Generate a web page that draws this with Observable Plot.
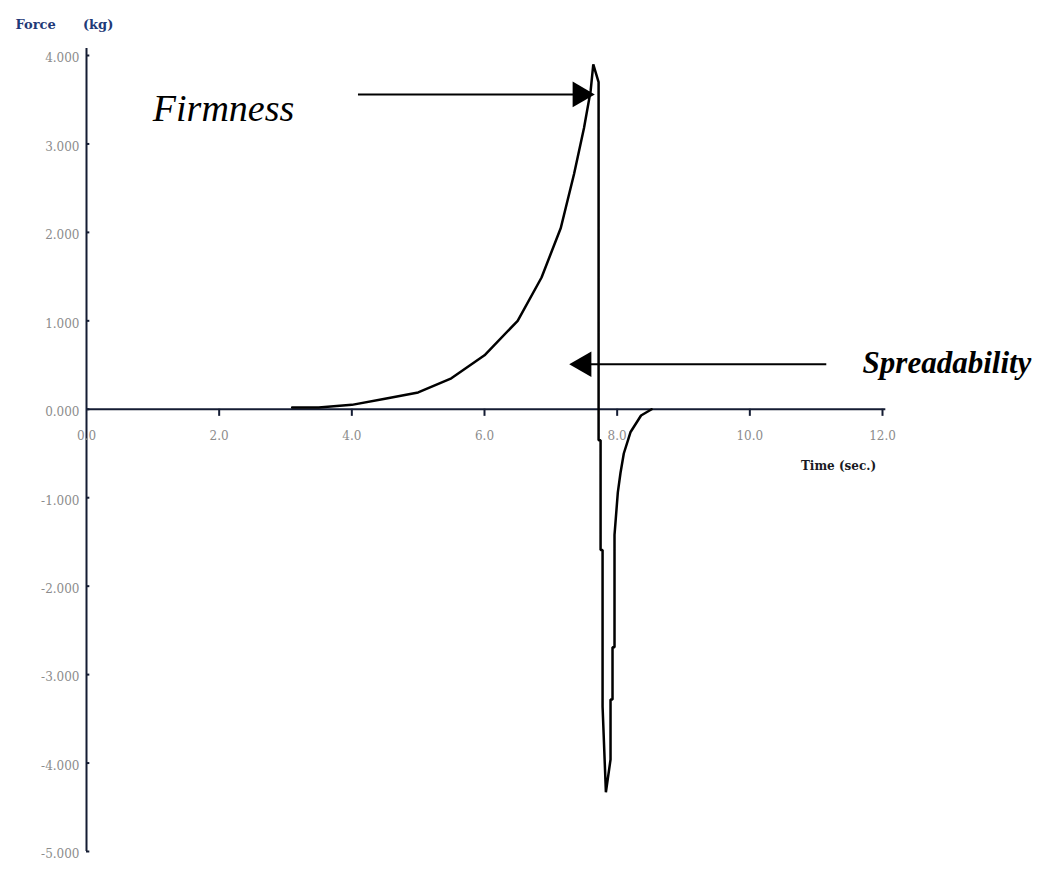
<!DOCTYPE html>
<html>
<head>
<meta charset="utf-8">
<script src="https://cdn.jsdelivr.net/npm/d3@7"></script>
<script src="https://cdn.jsdelivr.net/npm/@observablehq/plot@0.6"></script>
<style>
  html, body { margin: 0; padding: 0; background: #fff; }
  #chart svg { display: block; }
</style>
</head>
<body>
<div id="chart"></div>
<script>
// Force–time curve (texture analyser)
const time  = [3.1, 3.5, 4.0, 4.5, 5.0, 5.5, 6.0, 6.5, 6.86, 7.15, 7.35, 7.5, 7.6, 7.64, 7.72, 7.72, 7.75, 7.75, 7.78, 7.78, 7.83, 7.90, 7.90, 7.93, 7.93, 7.96, 7.96, 8.01, 8.05, 8.10, 8.20, 8.36, 8.52];
const force = [0.02, 0.02, 0.05, 0.12, 0.19, 0.35, 0.61, 1.0, 1.49, 2.05, 2.66, 3.18, 3.6, 3.9, 3.7, -0.35, -0.35, -1.59, -1.59, -3.36, -4.33, -3.96, -3.28, -3.28, -2.69, -2.69, -1.42, -0.94, -0.72, -0.5, -0.26, -0.07, 0.0];

const xTicks = [0, 2, 4, 6, 8, 10, 12];
const xTickLabels = ["0.0", "2.0", "4.0", "6.0", "8.0", "10.0", "12.0"];
const yTicks = [4, 3, 2, 1, 0, -1, -2, -3, -4, -5];
const yTickLabels = ["4.000", "3.000", "2.000", "1.000", "0.000", "-1.000", "-2.000", "-3.000", "-4.000", "-5.000"];

const xLabel = "Time (sec.)";
const yLabel = "Force\u00a0\u00a0\u00a0\u00a0\u00a0\u00a0(kg)";

// annotations: label text, label anchor, arrow shaft and head (data units)
const annLabels = ["Firmness", "Spreadability"];
const annLabelX = [1.0, 11.70];
const annLabelY = [3.40, 0.52];
const arrowX1 = [4.10, 11.16];
const arrowX2 = [7.40, 7.55];
const arrowY  = [3.56, 0.51];
const headX   = [7.44, 7.50];
const headRotate = [90, -90];

const curve = time.map((t, i) => ({t, f: force[i]}));
const xt = xTicks.map((v, i) => ({v, label: xTickLabels[i]}));
const yt = yTicks.map((v, i) => ({v, label: yTickLabels[i]}));
const arrows = annLabels.map((l, i) => ({
  label: l, lx: annLabelX[i], ly: annLabelY[i],
  x1: arrowX1[i], x2: arrowX2[i], y: arrowY[i], hx: headX[i], rot: headRotate[i]
}));

const axisColor = "#141c33";
const tickLabelColor = "#8c8c8c";

const chart = Plot.plot({
  width: 1039,
  height: 875,
  marginLeft: 86,
  marginRight: 157,
  marginTop: 55,
  marginBottom: 24,
  x: {domain: [0, 12], axis: null},
  y: {domain: [-5, 4], axis: null},
  style: {background: "#fff", overflow: "visible"},
  marks: [
    // axes lines
    Plot.ruleY([0], {x1: 0, x2: 12.05, stroke: axisColor, strokeWidth: 2}),
    Plot.ruleX([0], {y1: -5, y2: 4.08, stroke: axisColor, strokeWidth: 2}),
    // x ticks (hanging below axis)
    Plot.ruleX(xt.filter(d => d.v !== 0), {x: "v", y1: 0, y2: -0.08, stroke: axisColor, strokeWidth: 2}),
    Plot.text(xt, {x: "v", y: 0, dy: 27, text: "label", fill: tickLabelColor,
      fontFamily: "DejaVu Serif", fontSize: 12, textAnchor: "middle"}),
    // y ticks
    Plot.ruleY(yt, {y: "v", x1: 0, x2: 0.05, stroke: axisColor, strokeWidth: 2}),
    Plot.text(yt, {x: 0, y: "v", dx: -7, dy: 3, text: "label", fill: tickLabelColor,
      fontFamily: "DejaVu Serif", fontSize: 12, textAnchor: "end", letterSpacing: "0.5px"}),
    // axis titles
    Plot.text([yLabel], {x: -1.07, y: 4.35, text: d => d, fill: "#1f3a78",
      fontFamily: "DejaVu Serif", fontWeight: "bold", fontSize: 13, textAnchor: "start"}),
    Plot.text([xLabel], {x: 10.77, y: -0.645, text: d => d, fill: "#1a1a24",
      fontFamily: "DejaVu Serif", fontWeight: "bold", fontSize: 12, textAnchor: "start"}),
    // curve
    Plot.line(curve, {x: "t", y: "f", stroke: "#000", strokeWidth: 2.5, strokeLinejoin: "miter"}),
    // annotation arrows
    Plot.ruleY(arrows, {y: "y", x1: "x1", x2: "x2", stroke: "#000", strokeWidth: 2}),
    Plot.dot(arrows, {x: "hx", y: "y", symbol: "triangle", r: 9.5, rotate: "rot", fill: "#000", stroke: "none"}),
    Plot.text(arrows.slice(0, 1), {x: "lx", y: "ly", text: "label", fill: "#000",
      fontFamily: "Liberation Serif", fontStyle: "italic", fontSize: 38, textAnchor: "start"}),
    Plot.text(arrows.slice(1), {x: "lx", y: "ly", text: "label", fill: "#000",
      fontFamily: "Liberation Serif", fontStyle: "italic", fontWeight: "bold", fontSize: 31, textAnchor: "start"})
  ]
});

document.getElementById("chart").appendChild(chart);
</script>
</body>
</html>
